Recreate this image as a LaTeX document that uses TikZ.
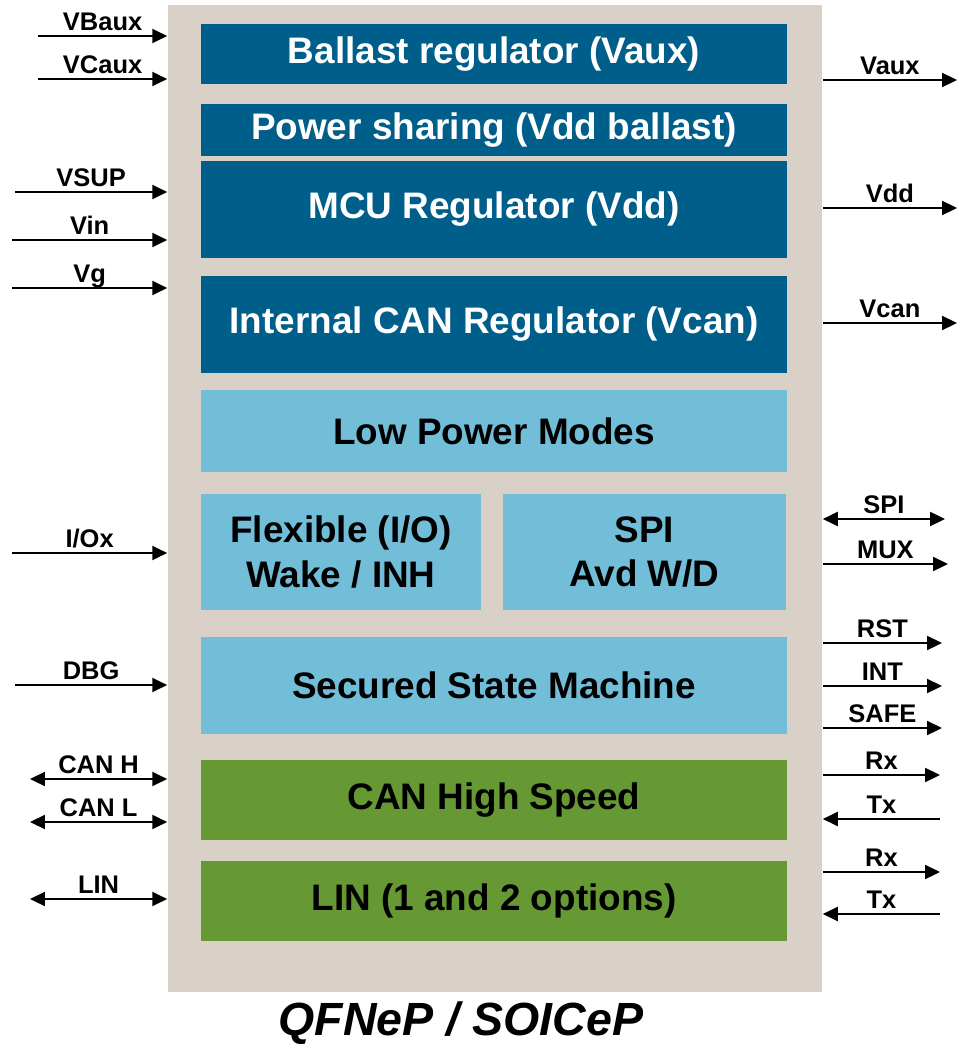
\documentclass[tikz,border=0pt]{standalone}
\usepackage{fontspec}
\setmainfont{Liberation Sans}
\usetikzlibrary{arrows.meta}

\definecolor{chipgray}{HTML}{D9D1C7}
\definecolor{darkblue}{HTML}{005F8A}
\definecolor{lightblue}{HTML}{72BDD8}
\definecolor{leafgreen}{HTML}{669933}

\begin{document}
\begin{tikzpicture}[x=0.02cm,y=-0.02cm,>={Triangle[length=8.5pt,width=8pt]},
                    line width=1pt,
                    chip/.style={fill=chipgray,inner sep=0pt},
                    block/.style={inner sep=0pt,align=center,minimum width=11.72cm,
                      font=\fontsize{21}{25.5}\selectfont\bfseries},
                    dark block/.style={block,fill=darkblue,text=white},
                    light block/.style={block,fill=lightblue},
                    green block/.style={block,fill=leafgreen},
                    pin label/.style={midway,anchor=base,yshift=3.2pt,inner sep=0pt,
                      font=\fontsize{14.5}{17}\selectfont\bfseries}]

  \useasboundingbox (0,0) rectangle (958,1044);

  % package outline
  \node[chip,minimum width=13.08cm,minimum height=19.74cm] (chip) at (495,498.5) {};

  % regulators
  \node[dark block,minimum height=1.2cm] (ballast) at (494,54) {Ballast regulator (Vaux)};
  \node[dark block,minimum height=1.04cm] (sharing) at (494,130) {Power sharing (Vdd ballast)};
  \node[dark block,minimum height=1.94cm] (mcu) at (494,209.5) {MCU Regulator (Vdd)};
  \node[dark block,minimum height=1.94cm] (canreg) at (494,324.5) {Internal CAN Regulator (Vcan)};

  % logic
  \node[light block,minimum height=1.64cm] (lowpower) at (494,431) {Low Power Modes};
  \node[light block,minimum width=5.6cm,minimum height=2.32cm] (flexible) at (341,552)
    {Flexible (I/O)\\Wake / INH};
  \node[light block,minimum width=5.66cm,minimum height=2.32cm] (spi) at (644.5,552)
    {SPI\\Avd W/D};
  \node[light block,minimum height=1.94cm] (ssm) at (494,685.5) {Secured State Machine};

  % transceivers
  \node[green block,minimum height=1.6cm] (canhs) at (494,800) {CAN High Speed};
  \node[green block,minimum height=1.6cm] (lin) at (494,901) {LIN (1 and 2 options)};

  \node[anchor=base,font=\fontsize{26.5}{32}\selectfont\bfseries\itshape] (pkg)
    at (461,1035) {QFNeP / SOICeP};

  % left pins
  \coordinate (vbaux in) at (38,36);
  \coordinate (vcaux in) at (38,79);
  \coordinate (vsup in) at (15,192);
  \coordinate (vin in) at (12,240);
  \coordinate (vg in) at (12,288);
  \coordinate (iox in) at (12,553);
  \coordinate (dbg in) at (15,685);
  \coordinate (canh in) at (30,779);
  \coordinate (canl in) at (30,822);
  \coordinate (lin in) at (30,899);

  \draw[->] (vbaux in) -- (vbaux in -| chip.west) node[pin label] (vbaux) {VBaux};
  \draw[->] (vcaux in) -- (vcaux in -| chip.west) node[pin label] (vcaux) {VCaux};
  \draw[->] (vsup in) -- (vsup in -| chip.west) node[pin label] (vsup) {VSUP};
  \draw[->] (vin in) -- (vin in -| chip.west) node[pin label] (vin) {Vin};
  \draw[->] (vg in) -- (vg in -| chip.west) node[pin label] (vg) {Vg};
  \draw[->] (iox in) -- (iox in -| chip.west) node[pin label] (iox) {I/Ox};
  \draw[->] (dbg in) -- (dbg in -| chip.west) node[pin label] (dbg) {DBG};
  \draw[<->] (canh in) -- (canh in -| chip.west) node[pin label] (canh) {CAN H};
  \draw[<->] (canl in) -- (canl in -| chip.west) node[pin label] (canl) {CAN L};
  \draw[<->] (lin in) -- (lin in -| chip.west) node[pin label] (linpin) {LIN};

  % right pins
  \coordinate (vaux out) at (957,80);
  \coordinate (vdd out) at (957,208);
  \coordinate (vcan out) at (957,323);
  \coordinate (spi out) at (945,519);
  \coordinate (mux out) at (948,564);
  \coordinate (rst out) at (942,643);
  \coordinate (int out) at (942,686);
  \coordinate (safe out) at (942,728);
  \coordinate (canrx out) at (940,775);
  \coordinate (cantx out) at (940,819);
  \coordinate (linrx out) at (940,872);
  \coordinate (lintx out) at (940,914);

  \draw[->] (vaux out -| chip.east) -- (vaux out) node[pin label] (vaux) {Vaux};
  \draw[->] (vdd out -| chip.east) -- (vdd out) node[pin label] (vdd) {Vdd};
  \draw[->] (vcan out -| chip.east) -- (vcan out) node[pin label] (vcan) {Vcan};
  \draw[<->] (spi out -| chip.east) -- (spi out) node[pin label] (spipin) {SPI};
  \draw[->] (mux out -| chip.east) -- (mux out) node[pin label] (mux) {MUX};
  \draw[->] (rst out -| chip.east) -- (rst out) node[pin label] (rst) {RST};
  \draw[->] (int out -| chip.east) -- (int out) node[pin label] (int) {INT};
  \draw[->] (safe out -| chip.east) -- (safe out) node[pin label] (safe) {SAFE};
  \draw[->] (canrx out -| chip.east) -- (canrx out) node[pin label] (canrx) {Rx};
  \draw[->] (cantx out) -- (cantx out -| chip.east) node[pin label] (cantx) {Tx};
  \draw[->] (linrx out -| chip.east) -- (linrx out) node[pin label] (linrx) {Rx};
  \draw[->] (lintx out) -- (lintx out -| chip.east) node[pin label] (lintx) {Tx};
\end{tikzpicture}
\end{document}
